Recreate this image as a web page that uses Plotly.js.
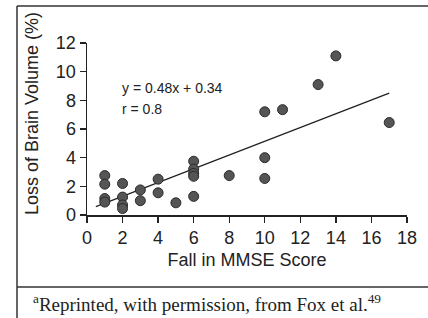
<!DOCTYPE html>
<html>
<head>
<meta charset="utf-8">
<script src="https://cdn.plot.ly/plotly-3.0.1.min.js"></script>
<style>
html,body{margin:0;padding:0;background:#fff;}
#chart{width:428px;height:318px;}
</style>
</head>
<body>
<div id="chart"></div>
<script>
// Data
const mmseFall = [1, 1, 1, 1, 2, 2, 2, 2, 3, 3, 4, 4, 5, 6, 6, 6, 6, 6, 8, 10, 10, 10, 11, 13, 14, 17];
const volumeLoss = [2.75, 2.15, 1.15, 0.9, 2.2, 1.25, 0.7, 0.45, 1.75, 1.0, 2.5, 1.55, 0.85, 3.75, 3.2, 2.9, 2.7, 1.3, 2.75, 7.2, 4.0, 2.55, 7.35, 9.1, 11.1, 6.45];
const fitX = [0.5, 17];
const fitY = [0.58, 8.5];
const xTicks = [0, 2, 4, 6, 8, 10, 12, 14, 16, 18];
const yTicks = [0, 2, 4, 6, 8, 10, 12];
const eqText = "y = 0.48x + 0.34";
const rText = "r = 0.8";
const xTitle = "Fall in MMSE Score";
const yTitle = "Loss of Brain Volume (%)";
const footnote = "<sup>a</sup>Reprinted, with permission, from Fox et al.<sup>49</sup>";

const W = 428, H = 318;
const mL = 87, mR = 21, mT = 43, mB = 103;
const pw = W - mL - mR, ph = H - mT - mB;
const px2paper = px => (px - mL) / pw;
const py2paper = py => (H - mB - py) / ph;

const ink = "#222";
const sans = "Liberation Sans, Arial, sans-serif";
const serif = "Liberation Serif, Times New Roman, serif";

const traces = [
  {
    x: fitX, y: fitY, type: "scatter", mode: "lines",
    line: {color: ink, width: 1.3}, hoverinfo: "skip", showlegend: false
  },
  {
    x: mmseFall, y: volumeLoss, type: "scatter", mode: "markers",
    marker: {size: 10, color: "#555", line: {color: "#2a2a2a", width: 1}},
    showlegend: false
  }
];

const axisCommon = {
  showline: true, linecolor: ink, linewidth: 1.5,
  ticks: "outside", ticklen: 6, tickwidth: 1.3, tickcolor: ink,
  showgrid: false, zeroline: false,
  tickfont: {family: sans, size: 18, color: ink},
  fixedrange: true
};

const layout = {
  width: W, height: H,
  margin: {l: mL, r: mR, t: mT, b: mB, pad: 0},
  paper_bgcolor: "#fff", plot_bgcolor: "#fff",
  showlegend: false,
  xaxis: Object.assign({}, axisCommon, {
    range: [0, 18], tickvals: xTicks, ticktext: xTicks.map(String),
    title: {text: xTitle, font: {family: sans, size: 18, color: ink}, standoff: 6}
  }),
  yaxis: Object.assign({}, axisCommon, {
    range: [0, 12], tickvals: yTicks, ticktext: yTicks.map(String)
  }),
  annotations: [
    {text: eqText, x: 1.85, y: 8.88, xref: "x", yref: "y", xanchor: "left", yanchor: "middle",
     showarrow: false, font: {family: sans, size: 14, color: ink}},
    {text: rText, x: 1.85, y: 7.42, xref: "x", yref: "y", xanchor: "left", yanchor: "middle",
     showarrow: false, font: {family: sans, size: 14, color: ink}},
    {text: yTitle, textangle: -90, x: px2paper(32), y: py2paper(114), xref: "paper", yref: "paper",
     xanchor: "center", yanchor: "middle", showarrow: false, font: {family: sans, size: 18, color: ink}},
    {text: footnote, x: px2paper(31), y: py2paper(303), xref: "paper", yref: "paper",
     xanchor: "left", yanchor: "middle", showarrow: false, font: {family: serif, size: 19, color: ink}}
  ],
  shapes: [
    {type: "line", xref: "paper", yref: "paper", x0: px2paper(17), x1: px2paper(17), y0: py2paper(6), y1: py2paper(318),
     line: {color: "#333", width: 1.5}},
    {type: "line", xref: "paper", yref: "paper", x0: px2paper(17), x1: px2paper(428), y0: py2paper(6), y1: py2paper(6),
     line: {color: "#333", width: 1.5}},
    {type: "line", xref: "paper", yref: "paper", x0: px2paper(17), x1: px2paper(428), y0: py2paper(287), y1: py2paper(287),
     line: {color: "#333", width: 1.5}}
  ]
};

Plotly.newPlot("chart", traces, layout, {displayModeBar: false, staticPlot: true});
</script>
</body>
</html>
